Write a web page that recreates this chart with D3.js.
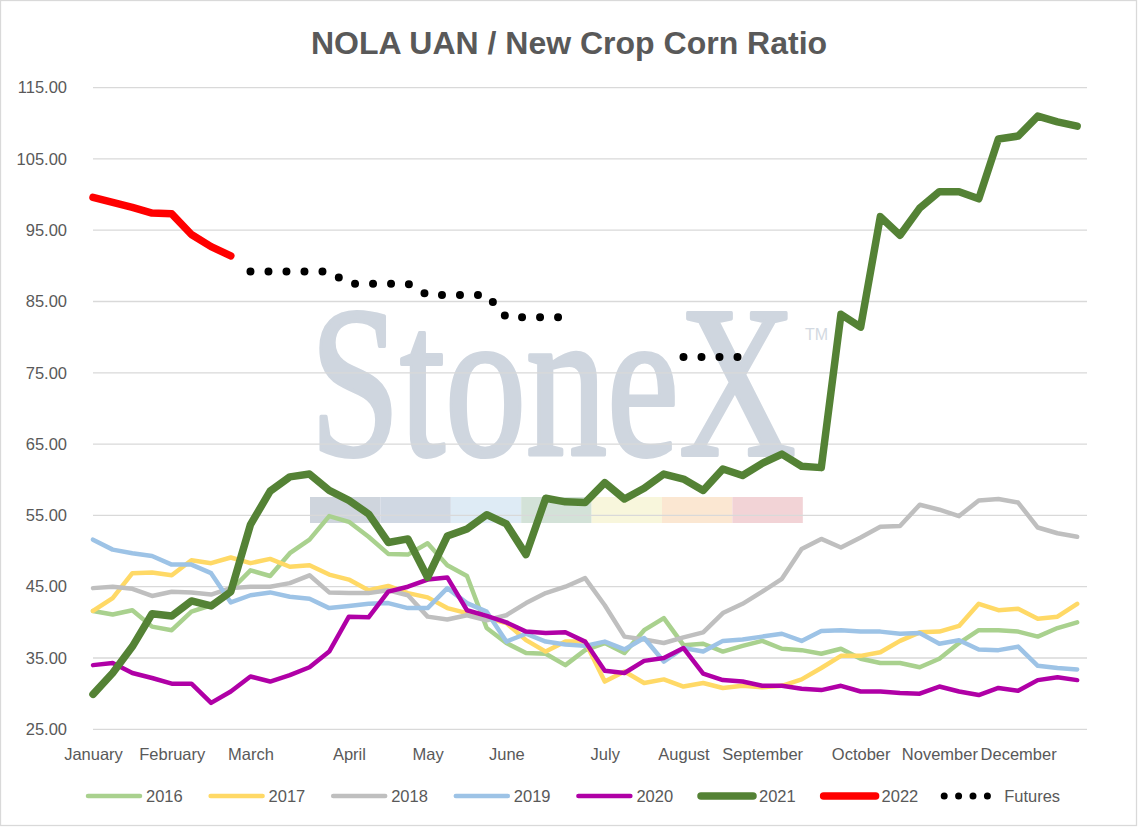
<!DOCTYPE html>
<html>
<head>
<meta charset="utf-8">
<script src="https://cdn.jsdelivr.net/npm/d3@7"></script>
<style>
  body { margin: 0; background: #fff; }
  text { font-family: "Liberation Sans", Arial, sans-serif; }
</style>
</head>
<body>
<svg id="chart" width="1139" height="827"></svg>
<script>
// weekly ratios, one value per week (week 0 = first week of January)
const monthNames = ['January', 'February', 'March', 'April', 'May', 'June', 'July',
  'August', 'September', 'October', 'November', 'December'];
const monthWeeks = [0, 4, 8, 13, 17, 21, 26, 30, 34, 39, 43, 47];
const yTicks = [25, 35, 45, 55, 65, 75, 85, 95, 105, 115];

const s2016 = [41.6, 41.1, 41.7, 39.4, 38.9, 41.5, 42.4, 44.5, 47.3, 46.5, 49.7, 51.6, 54.9, 54.1,
  52.0, 49.6, 49.5, 51.1, 48.0, 46.5, 39.2, 37.1, 35.7, 35.6, 34.0, 36.1, 37.1, 35.7, 38.9, 40.6,
  36.8, 37.0, 35.9, 36.7, 37.4, 36.3, 36.1, 35.6, 36.3, 34.9, 34.3, 34.3, 33.7, 34.9, 37.1, 38.9,
  38.9, 38.7, 38.0, 39.2, 40.0];
const s2017 = [41.6, 43.4, 46.9, 47.0, 46.6, 48.7, 48.3, 49.1, 48.3, 48.9, 47.8, 48.0, 46.7, 46.0,
  44.5, 45.1, 44.1, 43.5, 42.0, 41.3, 40.6, 39.9, 37.5, 35.9, 37.3, 37.3, 31.7, 33.1, 31.5, 32.0,
  31.0, 31.5, 30.8, 31.1, 30.9, 31.1, 32.0, 33.6, 35.3, 35.3, 35.8, 37.4, 38.6, 38.7, 39.5, 42.6,
  41.7, 41.9, 40.5, 40.8, 42.6];
const s2018 = [44.8, 45.0, 44.7, 43.7, 44.3, 44.2, 43.9, 44.8, 45.0, 45.0, 45.5, 46.6, 44.2, 44.1,
  44.1, 44.5, 43.8, 40.8, 40.4, 41.0, 40.3, 41.0, 42.7, 44.1, 45.0, 46.2, 42.4, 38.0, 37.6, 37.1,
  37.9, 38.6, 41.3, 42.6, 44.3, 46.1, 50.3, 51.7, 50.5, 51.9, 53.4, 53.5, 56.5, 55.8, 54.9, 57.1,
  57.3, 56.8, 53.3, 52.5, 52.0];
const s2019 = [51.6, 50.2, 49.7, 49.3, 48.1, 48.1, 46.9, 42.8, 43.8, 44.2, 43.6, 43.3, 42.0, 42.3,
  42.6, 42.7, 42.0, 42.0, 44.8, 42.7, 41.5, 37.3, 38.4, 37.3, 36.9, 36.7, 37.3, 36.2, 37.8, 34.5,
  36.4, 35.9, 37.4, 37.6, 38.0, 38.4, 37.4, 38.8, 38.9, 38.7, 38.7, 38.4, 38.5, 37.0, 37.5, 36.2,
  36.1, 36.6, 33.9, 33.6, 33.4];
const s2020 = [34.0, 34.3, 32.9, 32.2, 31.4, 31.4, 28.7, 30.3, 32.4, 31.7, 32.6, 33.7, 35.9, 40.8,
  40.7, 44.3, 45.0, 46.0, 46.3, 41.7, 40.9, 40.0, 38.7, 38.5, 38.6, 37.3, 33.2, 32.9, 34.6, 35.0,
  36.4, 32.8, 31.9, 31.7, 31.1, 31.1, 30.7, 30.5, 31.1, 30.3, 30.3, 30.1, 30.0, 31.0, 30.3, 29.8,
  30.8, 30.4, 31.9, 32.3, 31.9];
const s2021 = [29.9, 32.9, 36.6, 41.2, 40.9, 43.0, 42.3, 44.3, 53.7, 58.4, 60.4, 60.8, 58.5, 57.1,
  55.2, 51.2, 51.7, 46.3, 52.1, 53.1, 55.1, 53.8, 49.5, 57.4, 56.9, 56.8, 59.6, 57.3, 58.8, 60.8,
  60.1, 58.5, 61.5, 60.6, 62.3, 63.6, 61.9, 61.7, 83.2, 81.4, 96.9, 94.3, 98.1, 100.4, 100.4, 99.4,
  107.8, 108.2, 111.0, 110.2, 109.6];
const s2022 = [99.6, 98.9, 98.2, 97.4, 97.3, 94.4, 92.7, 91.4];
const futures = [null, null, null, null, null, null, null, null,
  89.2, 89.2, 89.2, 89.2, 89.2, 87.5, 87.5, 87.5, 87.5, 85.9, 85.9, 85.9, 85.9,
  82.8, 82.8, 82.8, 82.8, null, null, null, null, null, 77.2, 77.2, 77.2, 77.2];

const seriesList = [
  { name: '2016', values: s2016, color: '#a9d18e', width: 4.5 },
  { name: '2017', values: s2017, color: '#ffd966', width: 4.5 },
  { name: '2018', values: s2018, color: '#bfbfbf', width: 4.5 },
  { name: '2019', values: s2019, color: '#9dc3e6', width: 4.5 },
  { name: '2020', values: s2020, color: '#b000a6', width: 4.5 },
  { name: '2021', values: s2021, color: '#548235', width: 7.5 },
  { name: '2022', values: s2022, color: '#ff0000', width: 7.5 },
  { name: 'Futures', values: futures, color: '#000000', width: 8, dotted: true }
];

const textColor = '#595959';
const gridColor = '#d9d9d9';
const fontFamily = '"Liberation Sans", Arial, sans-serif';

const svg = d3.select('#chart');

svg.append('rect')
   .attr('x', 0.5).attr('y', 0.5)
   .attr('width', 1136).attr('height', 825)
   .attr('fill', '#fff')
   .attr('stroke', gridColor)
   .attr('stroke-width', 1.3);

const x = d3.scaleLinear().domain([0, 50.5]).range([93, 1087]);
const y = d3.scaleLinear().domain([25, 115]).range([729.3, 87.6]);

// watermark (logo behind the plot), squeezed horizontally
const wm = svg.append('g').attr('class', 'watermark');
wm.append('text')
  .attr('transform', 'translate(310,455) scale(0.75,1)')
  .style('font-family', '"Liberation Serif", "Times New Roman", serif')
  .style('font-size', '216px')
  .attr('fill', '#cfd6df')
  .attr('stroke', '#cfd6df')
  .attr('stroke-width', 4)
  .attr('stroke-linejoin', 'round')
  .text('StoneX');
wm.append('text')
  .attr('x', 805).attr('y', 340)
  .style('font-size', '16px')
  .attr('fill', '#d3d9e1')
  .text('TM');
const barColors = ['#cfd5dd', '#d0d8e3', '#deebf5', '#d3e2d8', '#f8f6dc', '#fbe7d2', '#f2d3d6'];
wm.selectAll('rect')
  .data(barColors)
  .enter()
  .append('rect')
  .attr('x', (d, i) => 310 + i * 70.4)
  .attr('y', 497)
  .attr('width', 70.4)
  .attr('height', 26)
  .attr('fill', d => d);

// horizontal grid lines
svg.append('g')
   .selectAll('line')
   .data(yTicks)
   .enter()
   .append('line')
   .attr('x1', x.range()[0])
   .attr('x2', x.range()[1])
   .attr('y1', d => y(d))
   .attr('y2', d => y(d))
   .attr('stroke', gridColor)
   .attr('stroke-width', 1.3);

// y axis labels
const yAxisG = svg.append('g')
  .attr('class', 'yAxis')
  .attr('transform', `translate(${x.range()[0]},0)`)
  .call(d3.axisLeft(y).tickValues(yTicks).tickFormat(d3.format('.2f')).tickSize(0).tickPadding(26));
yAxisG.select('.domain').remove();
yAxisG.attr('font-family', fontFamily).attr('font-size', 16.5);
yAxisG.selectAll('.tick text').attr('fill', textColor);

// month labels
const xAxisG = svg.append('g')
  .attr('class', 'xAxis')
  .attr('transform', `translate(0,${y(25)})`)
  .call(d3.axisBottom(x).tickValues(monthWeeks).tickFormat((d, i) => monthNames[i]).tickSize(0).tickPadding(19));
xAxisG.select('.domain').remove();
xAxisG.attr('font-family', fontFamily).attr('font-size', 16.5);
xAxisG.selectAll('.tick text').attr('fill', textColor);

// series lines
const line = d3.line()
  .defined(d => d != null)
  .x((d, i) => x(i))
  .y(d => y(d));

seriesList.forEach(s => {
  const path = svg.append('path')
    .datum(s.values)
    .attr('fill', 'none')
    .attr('stroke', s.color)
    .attr('stroke-width', s.width)
    .attr('stroke-linecap', 'round')
    .attr('stroke-linejoin', 'round')
    .attr('d', line);
  if (s.dotted) {
    path.attr('stroke-dasharray', '0 18');
  }
});

// title
svg.append('text')
   .attr('x', 569)
   .attr('y', 54)
   .attr('text-anchor', 'middle')
   .style('font-size', '32px')
   .style('font-weight', 'bold')
   .attr('fill', textColor)
   .text('NOLA UAN / New Crop Corn Ratio');

// legend
const legendY = 796;
const legend = svg.append('g').attr('class', 'legend');
seriesList.forEach((s, i) => {
  const lx = 86 + i * 122.6;
  if (s.dotted) {
    legend.append('line')
      .attr('x1', lx).attr('x2', lx + 43.2)
      .attr('y1', legendY).attr('y2', legendY)
      .attr('stroke', s.color)
      .attr('stroke-width', 7)
      .attr('stroke-linecap', 'round')
      .attr('stroke-dasharray', '0 14.4');
  } else {
    legend.append('line')
      .attr('x1', lx + 2).attr('x2', lx + 54)
      .attr('y1', legendY).attr('y2', legendY)
      .attr('stroke', s.color)
      .attr('stroke-width', s.width)
      .attr('stroke-linecap', 'round');
  }
  legend.append('text')
    .attr('x', lx + 60)
    .attr('y', legendY)
    .attr('dy', '0.36em')
    .style('font-size', '16.5px')
    .attr('fill', textColor)
    .text(s.name);
});
</script>
</body>
</html>
